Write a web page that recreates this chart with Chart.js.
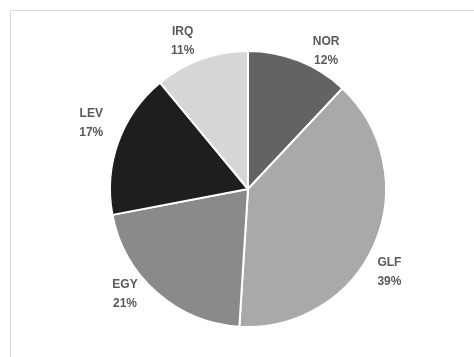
<!DOCTYPE html>
<html>
<head>
<meta charset="utf-8">
<script src="https://cdn.jsdelivr.net/npm/chart.js@4/dist/chart.umd.min.js"></script>
<style>
  html, body { margin: 0; padding: 0; background: #fff; }
  #wrap { position: relative; width: 474px; height: 357px; overflow: hidden; }
  #frame {
    position: absolute; left: 10px; top: 10px;
    width: 480px; height: 360px;
    border: 1px solid #d9d9d9;
  }
  canvas { position: absolute; left: 0; top: 0; }
</style>
</head>
<body>
<div id="wrap">
  <div id="frame"></div>
  <canvas id="chart" width="474" height="357"></canvas>
</div>
<script>
// Regions and their share (%)
const categories = ['NOR', 'GLF', 'EGY', 'LEV', 'IRQ'];
const shares = [12, 39, 21, 17, 11];
const sliceColors = ['#636363', '#a9a9a9', '#8a8a8a', '#1e1e1e', '#d6d6d6'];

// Draw "NAME / NN%" outside each slice (best-fit style nudges)
const angleNudge = [8, 7, 8, 3, -4];   // degrees
const gapNudge = [20, 26, 24, 32, 24]; // px beyond the rim

const outsideLabels = {
    id: 'outsideLabels',
    afterDatasetsDraw(chart) {
        const ctx = chart.ctx;
        const meta = chart.getDatasetMeta(0);
        ctx.save();
        ctx.font = 'bold 12px "Liberation Sans", Arial, sans-serif';
        ctx.fillStyle = '#595959';
        ctx.textAlign = 'center';
        ctx.textBaseline = 'middle';
        meta.data.forEach((arc, i) => {
            const p = arc.getProps(['x', 'y', 'startAngle', 'endAngle', 'outerRadius'], true);
            const mid = (p.startAngle + p.endAngle) / 2 + angleNudge[i] * Math.PI / 180;
            const r = p.outerRadius + gapNudge[i];
            const x = p.x + Math.cos(mid) * r;
            const y = p.y + Math.sin(mid) * r;
            ctx.fillText(categories[i], x, y - 9.5);
            ctx.fillText(shares[i] + '%', x, y + 9.5);
        });
        ctx.restore();
    }
};

new Chart(document.getElementById('chart'), {
    type: 'pie',
    data: {
        labels: categories,
        datasets: [{
            data: shares,
            backgroundColor: sliceColors,
            borderColor: '#ffffff',
            borderWidth: 2
        }]
    },
    options: {
        responsive: false,
        animation: false,
        layout: { padding: { left: 30, right: 8, top: 50, bottom: 29 } },
        plugins: {
            legend: { display: false },
            tooltip: { enabled: false }
        }
    },
    plugins: [outsideLabels]
});
</script>
</body>
</html>
